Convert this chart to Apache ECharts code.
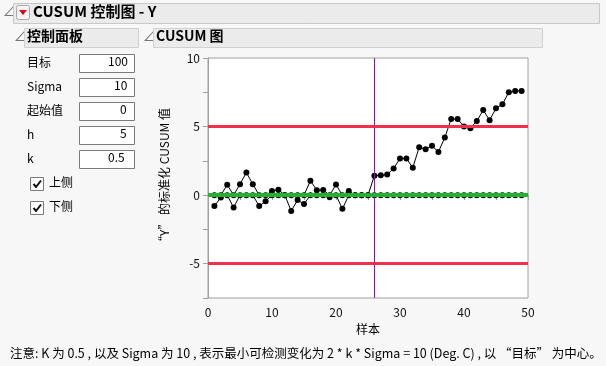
<!DOCTYPE html>
<html><head><meta charset="utf-8">
<script src="https://cdn.jsdelivr.net/npm/echarts@6/dist/echarts.min.js"></script>
<style>html,body{margin:0;padding:0;background:#f7f7f7}#c{width:606px;height:366px}</style>
</head><body><div id="c"></div>
<script>
var samples = [1,2,3,4,5,6,7,8,9,10,11,12,13,14,15,16,17,18,19,20,21,22,23,24,25,26,27,28,29,30,31,32,33,34,35,36,37,38,39,40,41,42,43,44,45,46,47,48,49];
var upperCusum = [0,0,0.75,0,0.8,1.65,0.8,0,0,0.3,0.4,0,0,0,0,1.05,0.36,0.38,0,0.77,0,0.3,0,0,0,1.42,1.45,1.5,1.95,2.67,2.67,2.0,3.5,3.35,3.6,3.15,4.2,5.55,5.55,5.0,4.88,5.4,6.2,5.47,6.33,6.62,7.5,7.6,7.6];
var lowerCusum = [-0.8,-0.17,0,-0.9,0,0,0,-0.8,-0.45,0,0,0,-1.15,-0.36,-0.65,0,0,0,-0.15,0,-1.0,0,0,0,0,0,0,0,0,0,0,0,0,0,0,0,0,0,0,0,0,0,0,0,0,0,0,0,0];
var hLimit = 5;
var centerLine = 0;
var shiftSample = 26;
var xTicks = [0,10,20,30,40,50];
var yTicks = [-5,0,5,10];
var panelLabels = ['目标','Sigma','起始值','h','k'];
var panelValues = ['100','10','0','5','0.5'];
var checkLabels = ['上侧','下侧'];

var FONT = '"Noto Sans CJK SC", "Noto Sans", sans-serif';
var chart = echarts.init(document.getElementById('c'), null, {renderer:'canvas'});

function pairs(vals){ return samples.map(function(s,i){return [s, vals[i]];}); }

var g = [];
// top header
g.push({type:'text', left:3, top:4, style:{text:'⊿', font:'13px '+FONT, fill:'#777'}});
g.push({type:'rect', shape:{x:13.5,y:3.5,width:586,height:20}, style:{fill:'#ebebeb', stroke:'#c8c8c8', lineWidth:1}});
g.push({type:'rect', shape:{x:16.5,y:5.5,width:13,height:14,r:2}, style:{fill:'#f4f4f4', stroke:'#a8a8a8', lineWidth:1}});
g.push({type:'polygon', shape:{points:[[19,10],[27,10],[23,15]]}, style:{fill:'#e0001a'}});
g.push({type:'text', left:33, top:4, style:{text:'CUSUM 控制图 - Y', font:'bold 15px '+FONT, fill:'#000'}});
// sub headers
g.push({type:'text', left:14, top:29, style:{text:'⊿', font:'13px '+FONT, fill:'#777'}});
g.push({type:'rect', shape:{x:24.5,y:28.5,width:114,height:19}, style:{fill:'#ebebeb', stroke:'#d0d0d0', lineWidth:1}});
g.push({type:'text', left:27, top:29, style:{text:'控制面板', font:'bold 14px '+FONT, fill:'#000'}});
g.push({type:'text', left:143, top:29, style:{text:'⊿', font:'13px '+FONT, fill:'#777'}});
g.push({type:'rect', shape:{x:153.5,y:28.5,width:389,height:19}, style:{fill:'#ebebeb', stroke:'#d0d0d0', lineWidth:1}});
g.push({type:'text', left:156, top:29, style:{text:'CUSUM 图', font:'bold 14px '+FONT, fill:'#000'}});
// panel fields
panelLabels.forEach(function(lab,i){
  var y = 54 + i*24;
  g.push({type:'text', left:27, top:y+2, style:{text:lab, font:'12px '+FONT, fill:'#000'}});
  g.push({type:'rect', shape:{x:79.5,y:y+0.5,width:55,height:18}, style:{fill:'#fff', stroke:'#7a7a7a', lineWidth:1}});
  g.push({type:'text', left:130-6*panelValues[i].length-4, top:y+1, style:{text:panelValues[i], font:'12px '+FONT, fill:'#000', align:'left'}});
});
checkLabels.forEach(function(lab,i){
  var y = 177 + i*24;
  g.push({type:'rect', shape:{x:30.5,y:y+0.5,width:13,height:13}, style:{fill:'#fff', stroke:'#7a7a7a', lineWidth:1}});
  g.push({type:'polyline', shape:{points:[[33.5,y+7],[36,y+10],[41,y+3.5]]}, style:{stroke:'#111', lineWidth:2, fill:null}});
  g.push({type:'text', left:49, top:y-1, style:{text:lab, font:'12px '+FONT, fill:'#000'}});
});
// footer
g.push({type:'text', left:10, top:347, style:{text:'注意: K 为 0.5 , 以及 Sigma 为 10 , 表示最小可检测变化为 2 * k * Sigma = 10 (Deg. C) , 以 “目标” 为中心。', font:'12.5px '+FONT, fill:'#000'}});

var option = {
  animation:false,
  backgroundColor:'#f7f7f7',
  textStyle:{fontFamily:FONT},
  graphic:g,
  grid:{left:208, top:58, right:78, bottom:68, show:true, backgroundColor:'#fff', borderColor:'#a0a0a0', borderWidth:1},
  xAxis:{type:'value', min:0, max:50, interval:5,
    name:'样本', nameLocation:'middle', nameGap:25, nameTextStyle:{fontSize:12, color:'#000'},
    axisLine:{lineStyle:{color:'#a0a0a0'}}, axisTick:{show:true, length:5, lineStyle:{color:'#a0a0a0'}},
    axisLabel:{fontSize:12, color:'#111', margin:8, formatter:function(v){return xTicks.indexOf(v)>=0? String(v):'';}},
    splitLine:{show:false}},
  yAxis:{type:'value', min:-7.5, max:10, interval:2.5,
    name:'“Y” 的标准化 CUSUM 值', nameLocation:'middle', nameGap:38, nameTextStyle:{fontSize:12, color:'#000'},
    axisLine:{show:true, lineStyle:{color:'#a0a0a0'}}, axisTick:{show:true, length:5, lineStyle:{color:'#a0a0a0'}},
    axisLabel:{fontSize:12, color:'#111', margin:8, formatter:function(v){return yTicks.indexOf(v)>=0? String(v):'';}},
    splitLine:{show:false}},
  series:[
    {type:'line', name:'upper', data:pairs(upperCusum), symbol:'circle', symbolSize:6, z:3,
      lineStyle:{color:'#000', width:1}, itemStyle:{color:'#000'},
      markLine:{silent:true, symbol:'none', label:{show:false}, lineStyle:{color:'#9400f0', width:1, type:'solid'},
        data:[{xAxis:shiftSample}]}},
    {type:'line', name:'lower', data:pairs(lowerCusum), symbol:'circle', symbolSize:6, z:3,
      lineStyle:{color:'#000', width:1}, itemStyle:{color:'#000'}},
    {type:'line', name:'limits', data:[], z:5,
      markLine:{silent:true, symbol:'none', label:{show:false},
        data:[
          {yAxis:hLimit, lineStyle:{color:'#f2304c', width:3, type:'solid'}},
          {yAxis:-hLimit, lineStyle:{color:'#f2304c', width:3, type:'solid'}},
          {yAxis:centerLine, lineStyle:{color:'#22b32e', width:4, type:'solid'}}
        ]}}
  ]
};
chart.setOption(option);
</script></body></html>
